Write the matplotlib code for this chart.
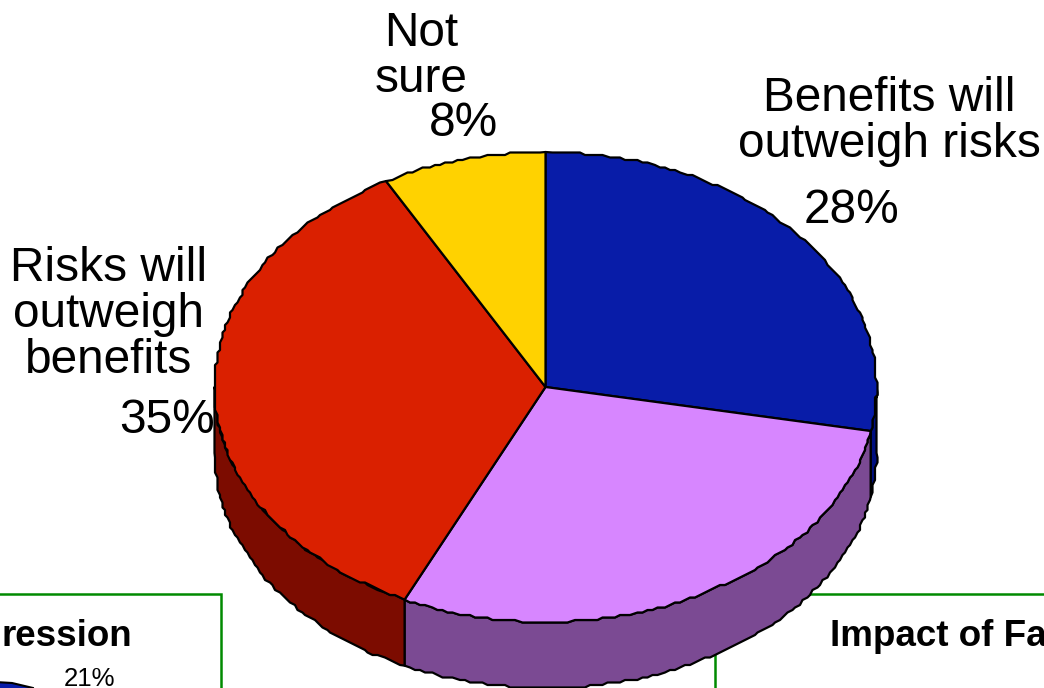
import numpy as np
import matplotlib
matplotlib.use("Agg")
import matplotlib.pyplot as plt
from matplotlib.patches import Polygon, Rectangle

categories = ["Benefits will\noutweigh risks", "Other", "Risks will\noutweigh\nbenefits", "Not\nsure"]
values = [28, 29, 35, 8]
value_labels = ["28%", None, "35%", "8%"]
top_colors = ["#081CA8", "#D786FF", "#DA2000", "#FFD200"]
side_colors = ["#000F80", "#7B4A93", "#7C0C00", "#8A7000"]

plt.rcParams["font.family"] = ["Liberation Sans", "DejaVu Sans"]

fig = plt.figure(figsize=(10.44, 6.88), dpi=100)
ax = fig.add_axes([0, 0, 1, 1])
ax.set_xlim(0, 1044)
ax.set_ylim(688, 0)
ax.axis("off")

cx, cy, rx, ry, depth = 545.5, 387.0, 331.0, 235.0, 66.0
GREEN = "#008A00"


def rim(t0, t1, dy=0.0):
    n = max(2, int(abs(t1 - t0) / 1.0) + 1)
    t = np.radians(np.linspace(t0, t1, n))
    x = cx + rx * np.sin(t)
    y = cy - ry * np.cos(t) + dy
    # slightly stepped outline, as in the low-resolution original
    inner = np.ones(n, bool)
    inner[[0, -1]] = False
    x[inner] = np.round(x[inner] / 2.5) * 2.5
    y[inner] = np.round(y[inner] / 2.5) * 2.5
    return np.column_stack([x, y])


# background framed boxes
ax.add_patch(Rectangle((-5, 594), 225.5, 200, fc="white", ec=GREEN, lw=1.8, zorder=1))
ax.add_patch(Rectangle((714.5, 594), 400, 200, fc="white", ec=GREEN, lw=1.8, zorder=1))
ax.text(132, 646, "ression", fontsize=26.5, fontweight="bold", ha="right", va="baseline", zorder=2)
ax.text(830, 646, "Impact of Fa", fontsize=26.5, fontweight="bold", ha="left", va="baseline", zorder=2)
ax.text(89.5, 686, "21%", fontsize=18.5, ha="center", va="baseline", zorder=2)
ax.add_patch(Polygon([(-5, 682), (12, 683), (33, 688), (33, 700), (-5, 700)],
                     fc="#081CA8", ec="black", lw=1.5, zorder=2))

# slice angles, clockwise from twelve o'clock
edges = np.concatenate([[0], np.cumsum(values)]) / sum(values) * 360

# side walls
for i in range(len(values)):
    a, b = max(edges[i], 90), min(edges[i + 1], 270)
    if b <= a:
        continue
    upper = rim(a, b)
    lower = rim(b, a, depth)
    ax.add_patch(Polygon(np.vstack([upper, lower]), closed=True, fc=side_colors[i],
                         ec="black", lw=1.6, joinstyle="round", zorder=3))

# top faces
for i in range(len(values)):
    pts = np.vstack([[[cx, cy]], rim(edges[i], edges[i + 1])])
    ax.add_patch(Polygon(pts, closed=True, fc=top_colors[i], ec="black", lw=1.6,
                         joinstyle="round", zorder=4))

# labels
fs = 34.4
ls = 1.03
ax.text(889, 157, categories[0], fontsize=fs, ha="center", va="baseline", linespacing=ls, zorder=5)
ax.text(851.5, 223, value_labels[0], fontsize=fs, ha="center", va="baseline", zorder=5)
ax.text(108.5, 373, categories[2], fontsize=fs, ha="center", va="baseline", linespacing=ls, zorder=5)
ax.text(167, 433, value_labels[2], fontsize=fs, ha="center", va="baseline", zorder=5)
ax.text(421, 92, categories[3], fontsize=fs, ha="center", va="baseline", linespacing=ls, zorder=5)
ax.text(463.5, 136, value_labels[3], fontsize=fs, ha="center", va="baseline", zorder=5)

fig.savefig("out.png", dpi=100, facecolor="white")
